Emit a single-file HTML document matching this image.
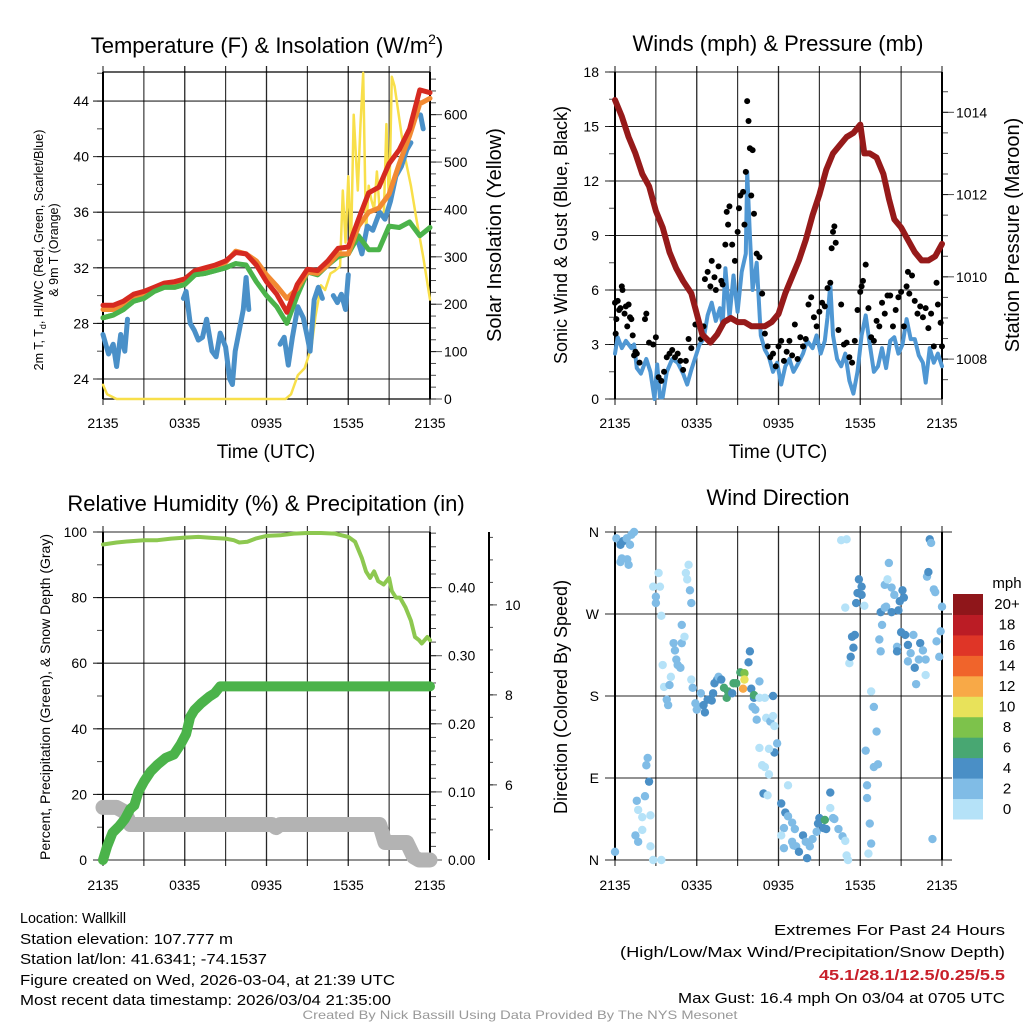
<!DOCTYPE html>
<html><head><meta charset="utf-8">
<style>
html,body{margin:0;padding:0;background:#fff;}
svg{display:block;font-family:"Liberation Sans",Arial,sans-serif;}
</style></head>
<body>
<svg id="fig" width="1024" height="1024" viewBox="0 0 1024 1024" xmlns="http://www.w3.org/2000/svg">
<rect x="0" y="0" width="1024" height="1024" fill="#fff"/>
<g id="layer"></g>
<text x="267" y="53" font-size="22" text-anchor="middle">Temperature (F) &amp; Insolation (W/m<tspan dy="-9" font-size="14">2</tspan><tspan dy="9">)</tspan></text>
<text x="778" y="51" font-size="22" text-anchor="middle">Winds (mph) &amp; Pressure (mb)</text>
<text x="266" y="511" font-size="22" text-anchor="middle">Relative Humidity (%) &amp; Precipitation (in)</text>
<text x="778" y="505" font-size="22" text-anchor="middle">Wind Direction</text>

<text transform="translate(43,250) rotate(-90)" font-size="12.5" text-anchor="middle">2m T, T<tspan dy="3" font-size="9">d</tspan><tspan dy="-3">, HI/WC (Red, Green, Scarlet/Blue)</tspan></text>
<text transform="translate(58,250) rotate(-90)" font-size="12.5" text-anchor="middle">&amp; 9m T (Orange)</text>
<text transform="translate(501,235) rotate(-90)" font-size="20" text-anchor="middle">Solar Insolation (Yellow)</text>
<text x="266" y="458" font-size="19" text-anchor="middle">Time (UTC)</text>
<text transform="translate(567,235) rotate(-90)" font-size="18" text-anchor="middle">Sonic Wind &amp; Gust (Blue, Black)</text>
<text transform="translate(1019,235) rotate(-90)" font-size="20" text-anchor="middle">Station Pressure (Maroon)</text>
<text x="778" y="458" font-size="19" text-anchor="middle">Time (UTC)</text>
<text transform="translate(50,697) rotate(-90)" font-size="14" text-anchor="middle">Percent, Precipitation (Green), &amp; Snow Depth (Gray)</text>
<text transform="translate(567,697) rotate(-90)" font-size="18" text-anchor="middle">Direction (Colored By Speed)</text>

<g font-size="15">
<text x="20" y="923" textLength="106" lengthAdjust="spacingAndGlyphs">Location: Wallkill</text>
<text x="20" y="944" textLength="213" lengthAdjust="spacingAndGlyphs">Station elevation: 107.777 m</text>
<text x="20" y="964" textLength="247" lengthAdjust="spacingAndGlyphs">Station lat/lon: 41.6341; -74.1537</text>
<text x="20" y="985" textLength="375" lengthAdjust="spacingAndGlyphs">Figure created on Wed, 2026-03-04, at 21:39 UTC</text>
<text x="20" y="1005" textLength="371" lengthAdjust="spacingAndGlyphs">Most recent data timestamp: 2026/03/04 21:35:00</text>
</g>
<g font-size="15" text-anchor="end">
<text x="1005" y="935" textLength="231" lengthAdjust="spacingAndGlyphs">Extremes For Past 24 Hours</text>
<text x="1005" y="957" textLength="385" lengthAdjust="spacingAndGlyphs">(High/Low/Max Wind/Precipitation/Snow Depth)</text>
<text x="1005" y="980" font-weight="bold" fill="#c8202a" textLength="186" lengthAdjust="spacingAndGlyphs">45.1/28.1/12.5/0.25/5.5</text>
<text x="1005" y="1003" textLength="327" lengthAdjust="spacingAndGlyphs">Max Gust: 16.4 mph On 03/04 at 0705 UTC</text>
</g>
<text x="520" y="1019" font-size="12" fill="#999" text-anchor="middle" textLength="435" lengthAdjust="spacingAndGlyphs">Created By Nick Bassill Using Data Provided By The NYS Mesonet</text>
</svg>
<script>
// ---------- DATA ----------
const timeTicks = ["2135","0335","0935","1535","2135"];
const tempHours = [0,0.75,1.5,2.25,3,3.75,4.5,5.25,6,6.75,7.5,8.25,9,9.75,10.5,11.25,12,12.75,13.5,14.25,15,15.75,16.5,17.25,18,18.75,19.5,20.25,21,21.75,22.5,23.25,24];
const tempRed = [29.3,29.3,29.6,30.1,30.3,30.6,30.9,31.0,31.2,31.8,32.0,32.2,32.5,33.1,33.0,32.2,31.0,30.1,28.8,30.8,31.9,31.8,32.5,33.4,33.5,35.5,37.4,37.8,39.5,40.5,42.0,44.8,44.6];
const tempOrange = [29.0,29.0,29.3,29.9,30.1,30.5,30.7,30.8,31.0,31.6,31.8,32.0,32.4,33.2,33.0,32.5,31.5,30.7,29.8,30.5,31.7,31.6,32.2,33.0,33.0,35.0,36.0,36.3,37.3,39.5,41.5,43.8,44.2];
const tempGreen = [28.4,28.6,29.0,29.6,29.8,30.3,30.6,30.6,30.8,31.5,31.6,31.8,32.0,32.3,32.2,31.0,30.0,29.2,28.0,30.0,31.7,31.5,32.2,32.8,33.0,34.3,33.3,33.3,35.0,34.9,35.3,34.3,34.9];
const chillHours = [0,0.4,0.75,1,1.3,1.6,1.8,2.1,2.4,2.6,2.95,3.1,5.9,6.1,6.4,6.7,7.0,7.3,7.6,8.0,8.3,8.6,9.0,9.3,9.5,9.7,10.0,10.3,10.5,10.7,10.9,12.3,12.4,12.6,13.0,13.3,13.6,13.9,14.3,14.7,15.0,15.2,15.5,15.8,16.1,16.3,16.9,17.2,17.5,17.8,18.0,18.2,18.7,19.0,19.4,19.8,20.3,20.7,21.1,21.5,21.9,22.3,22.6,22.8,23.3,23.5];
const chillValues = [27.2,25.8,26.5,24.9,27.2,26.0,28.3,null,27.2,null,28.8,null,29.8,30.3,28.0,27.5,26.8,27.0,28.3,26.0,25.6,27.3,26.3,24.0,23.6,26.0,27.5,29.0,31.3,29.0,null,null,27.2,null,26.5,27.0,25.0,27.0,29.2,28.4,27.0,26.0,29.7,30.6,29.8,null,30.0,29.5,30.1,29.0,31.5,null,34.0,33.0,35.0,34.7,36.0,35.5,36.8,38.6,39.3,40.5,41.0,null,43.0,42.0];
const solarHours = [0,0.3,1.0,13.4,13.8,14.3,14.8,15.3,15.6,16.0,16.3,16.7,17.0,17.4,17.6,17.8,18.0,18.2,18.4,18.7,18.9,19.1,19.3,19.5,19.7,19.9,20.1,20.3,20.6,20.8,21.0,21.2,21.4,21.7,22.1,22.6,23.0,23.5,24];
const solarValues = [30,10,0,0,10,50,65,110,175,240,230,265,270,280,440,330,470,320,600,440,580,688,350,450,420,400,480,400,380,580,400,680,660,600,520,450,380,300,210];

const windHours = [0,0.2,0.5,0.8,1.2,1.4,1.6,1.9,2.3,2.6,2.9,3.1,3.3,3.5,3.8,4.2,4.6,5.0,5.3,5.6,5.9,6.2,6.5,6.8,7.1,7.4,7.7,7.9,8.1,8.4,8.7,9.0,9.3,9.6,9.7,9.9,10.1,10.4,10.7,11.0,11.3,11.6,11.9,12.2,12.5,12.8,13.1,13.4,13.8,14.1,14.5,14.8,15.1,15.4,15.6,15.8,16.0,16.3,16.6,16.9,17.2,17.5,17.8,18.1,18.4,18.7,19.0,19.3,19.6,19.9,20.2,20.5,20.8,21.1,21.4,21.7,22.0,22.3,22.6,22.8,23.1,23.4,23.7,24];
const windSpeed = [2.5,3.4,2.8,3.2,2.8,3.0,1.7,1.4,2.2,1.5,0.0,1.9,0.1,0.1,1.5,2.2,2.0,1.4,0.8,1.6,2.3,3.0,3.3,4.6,5.3,4.3,5.0,4.0,7.2,4.5,6.8,4.8,7.0,8.0,12.5,9.0,6.0,7.5,3.5,2.7,2.3,1.5,2.0,0.8,1.8,2.2,1.5,1.9,2.5,3.2,2.8,3.5,2.5,3.2,4.5,6.3,3.5,2.2,1.8,2.5,1.0,0.3,1.5,3.5,4.6,3.0,1.5,1.8,2.8,1.7,3.2,3.4,2.5,3.0,4.4,3.3,3.3,2.4,2.0,0.9,2.8,2.0,2.5,1.8];
const gustHours = [0,0.05,0.1,0.2,0.3,0.4,0.5,0.55,0.7,0.8,0.9,1.0,1.1,1.2,1.3,1.4,1.5,1.6,1.8,2.2,2.3,2.5,2.8,3.0,3.2,3.4,3.6,3.8,4.0,4.2,4.4,4.6,4.8,5.0,5.2,5.4,5.6,5.9,6.3,6.5,6.6,6.8,7.0,7.1,7.3,7.4,7.6,7.8,7.9,8.1,8.2,8.3,8.4,8.6,8.8,9.0,9.1,9.2,9.4,9.5,9.6,9.7,9.8,9.9,10.0,10.1,10.2,10.4,10.6,10.8,11.0,11.2,11.4,11.6,11.8,12.0,12.2,12.4,12.6,12.8,13.0,13.2,13.4,13.6,13.8,14.0,14.2,14.4,14.6,14.8,15.0,15.2,15.4,15.6,15.8,15.9,16.0,16.1,16.2,16.4,16.6,16.8,17.0,17.2,17.4,17.6,17.8,18.0,18.1,18.2,18.4,18.6,18.8,19.0,19.2,19.4,19.6,19.8,20.0,20.2,20.4,20.6,20.8,21.0,21.2,21.4,21.5,21.6,21.8,22.0,22.2,22.4,22.6,22.8,23.0,23.2,23.4,23.6,23.7,23.9,24.0];
const gustSpeed = [5.3,3.6,4.4,5.4,4.9,5.0,6.2,6.0,4.7,5.1,4.0,5.2,4.5,4.4,3.5,2.4,2.6,2.5,2.0,4.4,4.7,3.1,3.0,3.4,1.2,1.0,1.5,2.3,2.5,2.7,2.3,2.5,2.1,1.6,2.1,3.3,2.8,4.1,3.3,4.0,6.6,7.0,6.2,7.6,6.7,6.0,7.3,6.5,6.3,8.5,10.3,9.6,10.6,8.5,7.6,9.2,10.5,11.2,11.4,9.6,12.5,16.4,15.3,13.8,11.2,13.7,10.2,8.0,7.8,5.8,3.6,2.9,2.3,2.5,1.8,2.9,3.2,2.1,2.6,3.2,2.4,4.1,2.2,3.4,2.9,3.3,5.2,5.6,4.5,4.0,4.8,5.3,5.1,6.1,6.4,8.3,9.2,9.5,8.6,3.8,5.2,3.0,3.1,2.3,2.0,3.2,4.9,5.9,6.2,6.5,7.4,5.0,3.4,3.2,4.3,4.0,5.3,4.7,5.7,5.7,4.0,4.9,5.6,5.9,4.0,6.2,7.0,5.8,6.8,5.4,4.7,5.1,4.5,5.0,3.9,4.7,2.9,6.4,5.2,4.2,2.9];
const presHours = [0,0.5,1.0,1.5,2.0,2.5,3.0,3.5,4.0,4.5,5.0,5.6,6.0,6.4,7.0,7.5,8.0,8.5,9.0,9.5,10.0,10.5,11.0,11.5,12.0,12.5,13.0,13.5,14.0,14.5,15.0,15.5,16.0,16.5,17.0,17.5,18.0,18.3,18.7,19.2,19.7,20.1,20.5,21.0,21.5,22.0,22.5,23.0,23.5,24];
const presValues = [1014.3,1013.9,1013.4,1013.0,1012.5,1012.2,1011.6,1011.2,1010.6,1010.2,1009.9,1009.6,1009.1,1008.6,1008.4,1008.6,1008.9,1009.0,1008.9,1008.9,1008.8,1008.8,1008.8,1008.9,1009.1,1009.6,1010.0,1010.4,1010.9,1011.5,1012.0,1012.6,1013.0,1013.2,1013.4,1013.5,1013.7,1013.0,1013.0,1012.9,1012.5,1011.9,1011.4,1011.2,1010.9,1010.6,1010.4,1010.4,1010.5,1010.8];

const rhHours = [0,1,2,3,4,5,6,7,8,9,9.6,10,10.6,11.2,12,13,14,15,16,17,18,18.5,19,19.3,19.6,19.9,20.2,20.6,21.0,21.2,21.5,21.8,22.2,22.6,22.9,23.2,23.4,23.6,23.8,24];
const rhValues = [96.2,96.8,97.2,97.5,97.5,98.0,98.3,98.5,98.2,98.0,97.5,96.8,97.0,98.0,98.8,99.0,99.5,99.7,99.7,99.5,98.5,97.0,92,88,86,88,85,84,86,82,80,80,77,73,68,67,66,67,68,67];
const precipHours = [0,0.3,0.7,1.2,1.6,2.0,2.3,2.6,3.0,3.5,4.0,4.6,5.2,5.7,6.1,6.4,6.7,7.2,7.8,8.2,8.6,24];
const precipValues = [0.0,0.02,0.04,0.05,0.06,0.075,0.08,0.10,0.115,0.13,0.14,0.15,0.155,0.17,0.185,0.21,0.22,0.23,0.24,0.245,0.255,0.255];
const snowHours = [0,1.0,1.6,2.0,12.4,12.7,13.0,20.3,20.7,22.3,22.8,23.2,24];
const snowValues = [5.5,5.5,5.4,5.12,5.12,5.05,5.12,5.12,4.72,4.72,4.4,4.33,4.33];

const dirHours = [0,0.1,0.4,0.6,0.86,1.1,1.2,1.4,0.5,0.4,0.9,1.0,1.6,1.7,1.5,1.7,2.0,2.0,2.2,2.3,2.4,2.5,2.6,2.6,2.8,3.4,2.8,3.0,3.2,3.3,3.0,3.4,3.5,3.6,3.8,3.9,4.0,4.1,4.3,4.4,4.5,4.6,4.8,4.9,4.9,5.1,5.2,5.3,5.4,5.5,5.6,5.6,5.7,5.9,6.0,6.1,6.3,6.5,6.6,6.8,7.1,7.2,7.3,7.5,7.6,7.8,8.0,8.2,8.3,8.6,8.7,8.9,9.2,9.5,9.5,9.4,9.9,9.8,10.0,10.2,10.2,10.1,10.3,10.4,10.6,10.6,11.0,11.1,11.4,11.6,11.6,11.7,11.9,11.7,10.6,11.3,10.8,11.0,11.3,10.9,11.2,12.7,12.2,12.5,12.7,13.0,13.2,12.4,12.2,12.4,13.0,13.1,13.3,13.5,13.8,14.1,14.0,14.3,14.5,14.8,14.9,15.0,15.3,15.4,15.5,15.8,15.8,16.0,16.1,16.4,16.7,16.9,17.0,17.1,16.6,17.0,16.9,17.2,17.3,17.5,17.4,17.6,17.7,17.9,17.8,18.1,18.1,18.3,18.6,18.8,18.7,18.5,18.5,18.4,18.8,19.0,19.2,19.0,19.3,19.4,19.5,19.6,19.5,19.8,19.9,20.1,19.8,20.0,20.3,20.3,20.5,20.7,20.7,20.8,20.9,21.0,21.1,21.2,21.3,21.5,21.5,21.7,21.9,22.0,22.1,22.3,22.4,22.6,22.8,22.8,22.9,23.0,23.1,23.2,23.4,23.5,23.3,23.6,23.8,23.9,24.0];
const dirDegrees = [9,353,346,350,353,346,357,360,331,327,330,324,65,20,27,55,47,33,70,104,112,86,49,15,0,0,300,289,315,300,282,268,214,190,176,170,192,201,238,230,220,214,211,238,258,245,315,308,324,296,282,198,189,172,165,168,183,170,162,176,175,183,194,198,201,198,189,178,185,183,194,194,206,205,198,188,229,217,188,178,181,168,165,154,196,178,178,156,152,180,158,147,128,118,123,122,104,102,94,73,71,82,62,52,48,41,34,35,27,13,20,16,15,9,27,2,20,15,23,31,40,46,35,44,34,74,57,46,45,34,26,21,5,0,351,352,277,216,223,233,245,247,282,308,293,300,291,279,7,18,40,68,82,120,185,168,141,102,105,242,229,258,272,277,278,326,302,308,299,272,291,234,229,274,284,250,296,288,247,236,218,227,247,211,193,220,238,230,220,203,311,316,352,348,297,294,23,240,223,251,278];
const dirSpeedMph = [2,2,4,4,2,2,2,2,2,2,2,2,2,2,2,0,0,0,2,2,2,4,0,0,0,0,0,2,0,0,2,0,0,0,2,2,2,0,2,2,2,2,2,2,2,0,0,0,0,2,2,0,2,2,2,2,2,4,4,4,4,4,4,4,2,4,6,6,6,4,6,6,6,8,10,12,4,4,4,4,6,2,2,2,2,0,0,0,2,4,0,0,2,4,0,0,0,0,0,4,0,0,4,4,2,2,2,2,0,2,2,2,2,4,4,4,2,2,2,2,4,4,4,6,4,4,0,2,2,2,2,0,0,0,0,0,0,0,4,4,4,4,4,4,4,4,4,0,0,2,2,2,2,2,0,2,2,2,2,2,2,2,4,2,2,2,2,0,2,4,2,2,4,4,4,4,4,4,4,4,2,2,2,4,2,2,4,2,2,0,2,4,4,2,2,2,2,2,2,2];

const speedBinLabels = ["0","2","4","6","8","10","12","14","16","18","20+"];
const speedBinColors = ["#b5e2f8","#80bce6","#4a8fc6","#48a772","#7dc24b","#e8e25a","#f8a947","#f0642b","#df3527","#bb1c25","#8f161a"];

// ---------- HELPERS ----------
const NS = "http://www.w3.org/2000/svg";
const layer = document.getElementById("layer");
function mk(tag, attrs, parent){
  const e = document.createElementNS(NS, tag);
  for (const k in attrs) e.setAttribute(k, attrs[k]);
  (parent || layer).appendChild(e);
  return e;
}
function linScale(d0,d1,r0,r1){ return v => r0 + (v-d0)*(r1-r0)/(d1-d0); }
function pathFrom(xs, ys, sx, sy){
  let d = "", pen = false;
  for (let i=0;i<xs.length;i++){
    if (ys[i]===null || ys[i]===undefined){ pen=false; continue; }
    d += (pen?"L":"M") + sx(xs[i]).toFixed(1) + "," + sy(ys[i]).toFixed(1);
    pen = true;
  }
  return d;
}
const PX = [[103,430],[615,942]];
const TOP1=72, BOT1=399, TOP2=532, BOT2=860;

function frame(x0,x1,y0,y1,name){
  const g = mk("g",{});
  
  
  const sx = linScale(0,24,x0,x1);
  for (let h=0; h<=24; h+=3){
    const l = mk("line",{x1:sx(h),x2:sx(h),y1:y0-6,y2:y1+6,stroke:"#000","stroke-width":(h%6===0&&h>0&&h<24)?1.3:1.1,"stroke-opacity":0.85},g);
    
    
  }
  return g;
}
function xTicks(x0,x1,y,name){
  const sx = linScale(0,24,x0,x1);
  timeTicks.forEach((lab,i)=>{
    const t = mk("text",{x:sx(i*6),y:y,"font-size":14,"text-anchor":"middle"});
    
    
    t.textContent = lab;
  });
}
function hgrid(sy, vals, x0, x1, ext){
  vals.forEach(v=>{
    const l = mk("line",{x1:x0-ext,x2:x1,y1:sy(v),y2:sy(v),stroke:"#000","stroke-width":1.1,"stroke-opacity":0.85});
    
    
  });
}
function yLabels(sy, vals, labs, x, anchor, name, fs){
  vals.forEach((v,i)=>{
    const t = mk("text",{x:x,y:sy(v)+5,"font-size":fs||14,"text-anchor":anchor});
    
    
    t.textContent = labs[i];
  });
}
function ticks(sy, from, to, step, x, len){
  const n = Math.round((to-from)/step);
  for (let k=0; k<=n; k++){
    const v = from + k*step;
    const l = mk("line",{x1:x,x2:x+len,y1:sy(v),y2:sy(v),stroke:"#000","stroke-width":1,"stroke-opacity":0.7});
    
    
  }
}
function axisLine(x,y0,y1,w){
  const l = mk("line",{x1:x,x2:x,y1:y0,y2:y1,stroke:"#000","stroke-width":w||2});
  
  
}
function series(xs, ys, sx, sy, color, w, name){
  const p = mk("path",{d:pathFrom(xs,ys,sx,sy),fill:"none",stroke:color,"stroke-width":w,"stroke-linecap":"round","stroke-linejoin":"round"});
  
  
  return p;
}

// ---------- PANEL 1: Temperature ----------
(function(){
  const x0=PX[0][0], x1=PX[0][1];
  const sx = linScale(0,24,x0,x1);
  const sy = linScale(22.56,46.09,BOT1,TOP1);
  const sr = linScale(0,690,BOT1,TOP1);
  frame(x0,x1,TOP1,BOT1,"temp");
  hgrid(sy,[24,28,32,36,40,44],x0,x1,10);
  mk("line",{x1:x0,x2:x1,y1:TOP1,y2:TOP1,stroke:"#000","stroke-width":1.2});
  mk("line",{x1:x0,x2:x1,y1:BOT1,y2:BOT1,stroke:"#000","stroke-width":1.2});
  ticks(sy,24,46,2,x0-6,6);
  ticks(sr,0,675,25,x1,6);
  ticks(sr,0,600,100,x1,12);
  axisLine(x0,TOP1,BOT1,2); axisLine(x1,TOP1,BOT1,2);
  yLabels(sy,[24,28,32,36,40,44],["24","28","32","36","40","44"],x0-14,"end","temp-y",14);
  yLabels(sr,[0,100,200,300,400,500,600],["0","100","200","300","400","500","600"],x1+14,"start","solar-y",14);
  xTicks(x0,x1,428,"temp");
  series(solarHours,solarValues,sx,sr,"#f8df4a",2.5,"solar-insolation-line");
  series(chillHours,chillValues,sx,sy,"#4a90c8",5,"heat-index-windchill-line");
  series(tempHours,tempGreen,sx,sy,"#4bb34a",5,"dewpoint-line");
  series(tempHours,tempOrange,sx,sy,"#f28a32",5,"temp-9m-line");
  series(tempHours,tempRed,sx,sy,"#d62a20",5,"temp-2m-line");
  series(tempHours.slice(0,14),tempGreen.slice(0,14),sx,sy,"#4bb34a",5,"dewpoint-line-front");
})();

// ---------- PANEL 2: Winds & Pressure ----------
(function(){
  const x0=PX[1][0], x1=PX[1][1];
  const sx = linScale(0,24,x0,x1);
  const sy = linScale(0,18,BOT1,TOP1);
  const sp = linScale(1007.03,1014.98,BOT1,TOP1);
  frame(x0,x1,TOP1,BOT1,"wind");
  hgrid(sy,[0,3,6,9,12,15,18],x0,x1,10);
  ticks(sy,0,18,1.5,x0-6,6);
  ticks(sp,1007.5,1014.5,0.5,x1,6);
  ticks(sp,1008,1014,2,x1,12);
  axisLine(x0,TOP1,BOT1,2); axisLine(x1,TOP1,BOT1,2);
  yLabels(sy,[0,3,6,9,12,15,18],["0","3","6","9","12","15","18"],x0-16,"end","wind-y",14);
  yLabels(sp,[1008,1010,1012,1014],["1008","1010","1012","1014"],x1+14,"start","pressure-y",14);
  xTicks(x0,x1,428,"wind");
  series(windHours,windSpeed,sx,sy,"#4f97d3",4,"sonic-wind-line");
  gustHours.forEach((h,i)=>{
    const c = mk("circle",{cx:sx(h),cy:sy(gustSpeed[i]),r:3,fill:"#000"});
    
    
  });
  series(presHours,presValues,sx,sp,"#961a1a",6,"station-pressure-line");
})();

// ---------- PANEL 3: RH & Precip ----------
(function(){
  const x0=PX[0][0], x1=PX[0][1];
  const sx = linScale(0,24,x0,x1);
  const sy = linScale(0,100,BOT2,TOP2);
  const spr = linScale(0,0.4817,BOT2,TOP2);
  const ssn = linScale(4.33,11.62,BOT2,TOP2);
  frame(x0,x1,TOP2,BOT2,"rh");
  hgrid(sy,[0,20,40,60,80,100],x0,x1,10);
  ticks(sy,0,100,10,x0-6,6);
  ticks(spr,0,0.48,0.02,x1,6);
  ticks(spr,0,0.4,0.1,x1,12);
  axisLine(x0,TOP2,BOT2,2); axisLine(x1,TOP2,BOT2,2);
  axisLine(489,TOP2,BOT2,2);
  ticks(ssn,5,11.5,0.5,489,4);
  ticks(ssn,6,10,2,489,8);
  yLabels(sy,[0,20,40,60,80,100],["0","20","40","60","80","100"],x0-16,"end","rh-y",14);
  yLabels(spr,[0,0.1,0.2,0.3,0.4],["0.00","0.10","0.20","0.30","0.40"],x1+18,"start","precip-y",14);
  yLabels(ssn,[6,8,10],["6","8","10"],505,"start","snow-y",14);
  xTicks(x0,x1,890,"rh");
  series(snowHours,snowValues,sx,ssn,"#b3b3b3",15,"snow-depth-line");
  series(precipHours,precipValues,sx,spr,"#4bb34a",10,"precipitation-line");
  series(rhHours,rhValues,sx,sy,"#8dc850",4,"relative-humidity-line");
})();

// ---------- PANEL 4: Wind Direction ----------
(function(){
  const x0=PX[1][0], x1=PX[1][1];
  const sx = linScale(0,24,x0,x1);
  const sy = linScale(0,360,BOT2,TOP2);
  frame(x0,x1,TOP2,BOT2,"direction");
  hgrid(sy,[0,90,180,270,360],x0,x1+10,10);
  axisLine(x0,TOP2,BOT2,2); axisLine(x1,TOP2,BOT2,2);
  yLabels(sy,[0,90,180,270,360],["N","E","S","W","N"],x0-16,"end","direction-y",14);
  xTicks(x0,x1,890,"direction");
  const n = Math.min(dirHours.length, dirDegrees.length);
  for (let i=0;i<n;i++){
    const spd = (dirSpeedMph[i]===undefined) ? 2 : dirSpeedMph[i];
    const bin = Math.max(0, Math.min(10, Math.floor(spd/2)));
    const c = mk("circle",{cx:sx(dirHours[i]),cy:sy(dirDegrees[i]),r:4.2,fill:speedBinColors[bin]});
    
    
  }
  // colorbar
  const cbTop=594, cbBot=819, cbX=953, cbW=30;
  const bh = (cbBot-cbTop)/speedBinLabels.length;
  speedBinLabels.forEach((lab,i)=>{
    const y = cbBot - (i+1)*bh;
    const r = mk("rect",{x:cbX,y:y,width:cbW,height:bh+0.5,fill:speedBinColors[i]});
    
    
    const t = mk("text",{x:1007,y:y+bh/2+5,"font-size":15,"text-anchor":"middle"});
    
    
    t.textContent = lab;
  });
  const u = mk("text",{x:1007,y:588,"font-size":15,"text-anchor":"middle"});
  
  
  u.textContent = "mph";
})();
</script>
</body></html>
